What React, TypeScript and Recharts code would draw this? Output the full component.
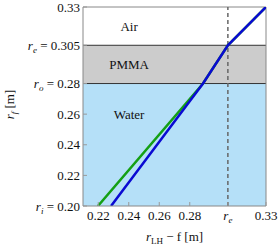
import React from 'react';
import {
  LineChart,
  Line,
  XAxis,
  YAxis,
  ReferenceArea,
  ReferenceLine,
  ReferenceDot,
} from 'recharts';

const FONT = '"Liberation Serif", "Times New Roman", serif';

// ray traced through the layers (green: alternative trace, mostly hidden under blue)
const greenX = [0.2198, 0.2887, 0.305, 0.33];
const greenY = [0.2, 0.28, 0.305, 0.33];
const blueX = [0.2284, 0.2887, 0.305, 0.33];
const blueY = [0.2, 0.28, 0.305, 0.33];

const xTicks = [0.22, 0.24, 0.26, 0.28, 0.305, 0.33];
const yTicks = [0.2, 0.22, 0.24, 0.26, 0.28, 0.305, 0.33];

// special tick names
const xTickNames: Record<string, [string, string]> = { '0.305': ['r', 'e'] };
const yTickNames: Record<string, [string, string]> = {
  '0.2': ['r', 'i'],
  '0.28': ['r', 'o'],
  '0.305': ['r', 'e'],
};

const layerNames = ['Water', 'PMMA', 'Air'];
const layerLabelX = [0.2402, 0.2402, 0.2402];
const layerLabelY = [0.2599, 0.2923, 0.3172];

const waterRange = [0.2, 0.28];
const pmmaRange = [0.28, 0.305];
const rE = 0.305;

const toPts = (xs: number[], ys: number[]) => xs.map((x, i) => ({ x, y: ys[i] }));

const fmt = (v: number) => (v === 0.2 ? '0.20' : String(v));

const YTick = (props: any) => {
  const { x, y, payload } = props;
  const name = yTickNames[String(payload.value)];
  return (
    <text x={x} y={y} dy={4.5} textAnchor="end" fontFamily={FONT} fontSize={13} fill="#111">
      {name && (
        <>
          <tspan fontStyle="italic">{name[0]}</tspan>
          <tspan fontStyle="italic" fontSize={9} dy={3}>{name[1]}</tspan>
          <tspan dy={-3}>{' = '}</tspan>
        </>
      )}
      <tspan>{fmt(payload.value)}</tspan>
    </text>
  );
};

const XTick = (props: any) => {
  const { x, y, payload } = props;
  const name = xTickNames[String(payload.value)];
  return (
    <text x={x} y={y} dy={11} textAnchor="middle" fontFamily={FONT} fontSize={13} fill="#111">
      {name ? (
        <>
          <tspan fontStyle="italic">{name[0]}</tspan>
          <tspan fontStyle="italic" fontSize={9} dy={3}>{name[1]}</tspan>
        </>
      ) : (
        fmt(payload.value)
      )}
    </text>
  );
};

export default function App() {
  return (
    <div style={{ position: 'absolute', left: 0, top: 0 }}>
      <LineChart width={278} height={246} margin={{ top: 7, right: 12, left: 0, bottom: 0 }}>
        <XAxis
          type="number"
          dataKey="x"
          domain={[0.21, 0.33]}
          ticks={xTicks}
          interval={0}
          allowDataOverflow
          height={40}
          tick={<XTick />}
          tickSize={-4}
          tickMargin={7}
          stroke="#888"
          axisLine={{ stroke: '#888' }}
          tickLine={{ stroke: '#999' }}
          label={(p: any) => {
            const vb = p.viewBox;
            return (
              <text x={vb.x + vb.width / 2} y={241} textAnchor="middle" fontFamily={FONT} fontSize={13} fill="#111">
                <tspan fontStyle="italic">r</tspan>
                <tspan fontSize={9} dy={3}>LH</tspan>
                <tspan dy={-3}>{' \u2212 f [m]'}</tspan>
              </text>
            );
          }}
        />
        <YAxis
          type="number"
          dataKey="y"
          domain={[0.2, 0.33]}
          ticks={yTicks}
          interval={0}
          allowDataOverflow
          width={83}
          tick={<YTick />}
          tickSize={-4}
          tickMargin={7}
          stroke="#888"
          axisLine={{ stroke: '#888' }}
          tickLine={{ stroke: '#999' }}
          label={(p: any) => {
            const vb = p.viewBox;
            const cy = vb.y + vb.height / 2 - 2;
            return (
              <text x={14} y={cy} textAnchor="middle" transform={`rotate(-90 14 ${cy})`} fontFamily={FONT} fontSize={13} fill="#111">
                <tspan fontStyle="italic">r</tspan>
                <tspan fontStyle="italic" fontSize={9} dy={3}>f</tspan>
                <tspan dy={-3}>{' [m]'}</tspan>
              </text>
            );
          }}
        />
        <ReferenceArea x1={0.21} x2={0.33} y1={waterRange[0]} y2={waterRange[1]} fill="#b5e0f8" fillOpacity={1} stroke="none" />
        <ReferenceArea x1={0.21} x2={0.33} y1={pmmaRange[0]} y2={pmmaRange[1]} fill="#cccccc" fillOpacity={1} stroke="none" />
        <ReferenceLine y={pmmaRange[0]} stroke="#333" strokeWidth={1} />
        <ReferenceLine y={pmmaRange[1]} stroke="#333" strokeWidth={1} />
        <ReferenceLine y={0.33} stroke="#888" />
        <ReferenceLine x={0.33} stroke="#888" />
        <ReferenceLine x={rE} stroke="#666" strokeWidth={1.5} strokeDasharray="4 3" />
        {layerNames.map((n, i) => (
          <ReferenceDot
            key={n}
            x={layerLabelX[i]}
            y={layerLabelY[i]}
            r={1}
            fill="none"
            stroke="none"
            label={{ value: n, position: 'center', fontFamily: FONT, fontSize: 13, fill: '#111' }}
          />
        ))}
        <Line data={toPts(greenX, greenY)} dataKey="y" stroke="#14a014" strokeWidth={2.5} dot={false} isAnimationActive={false} />
        <Line data={toPts(blueX, blueY)} dataKey="y" stroke="#0a0ad2" strokeWidth={2.5} dot={false} isAnimationActive={false} />
      </LineChart>
    </div>
  );
}
